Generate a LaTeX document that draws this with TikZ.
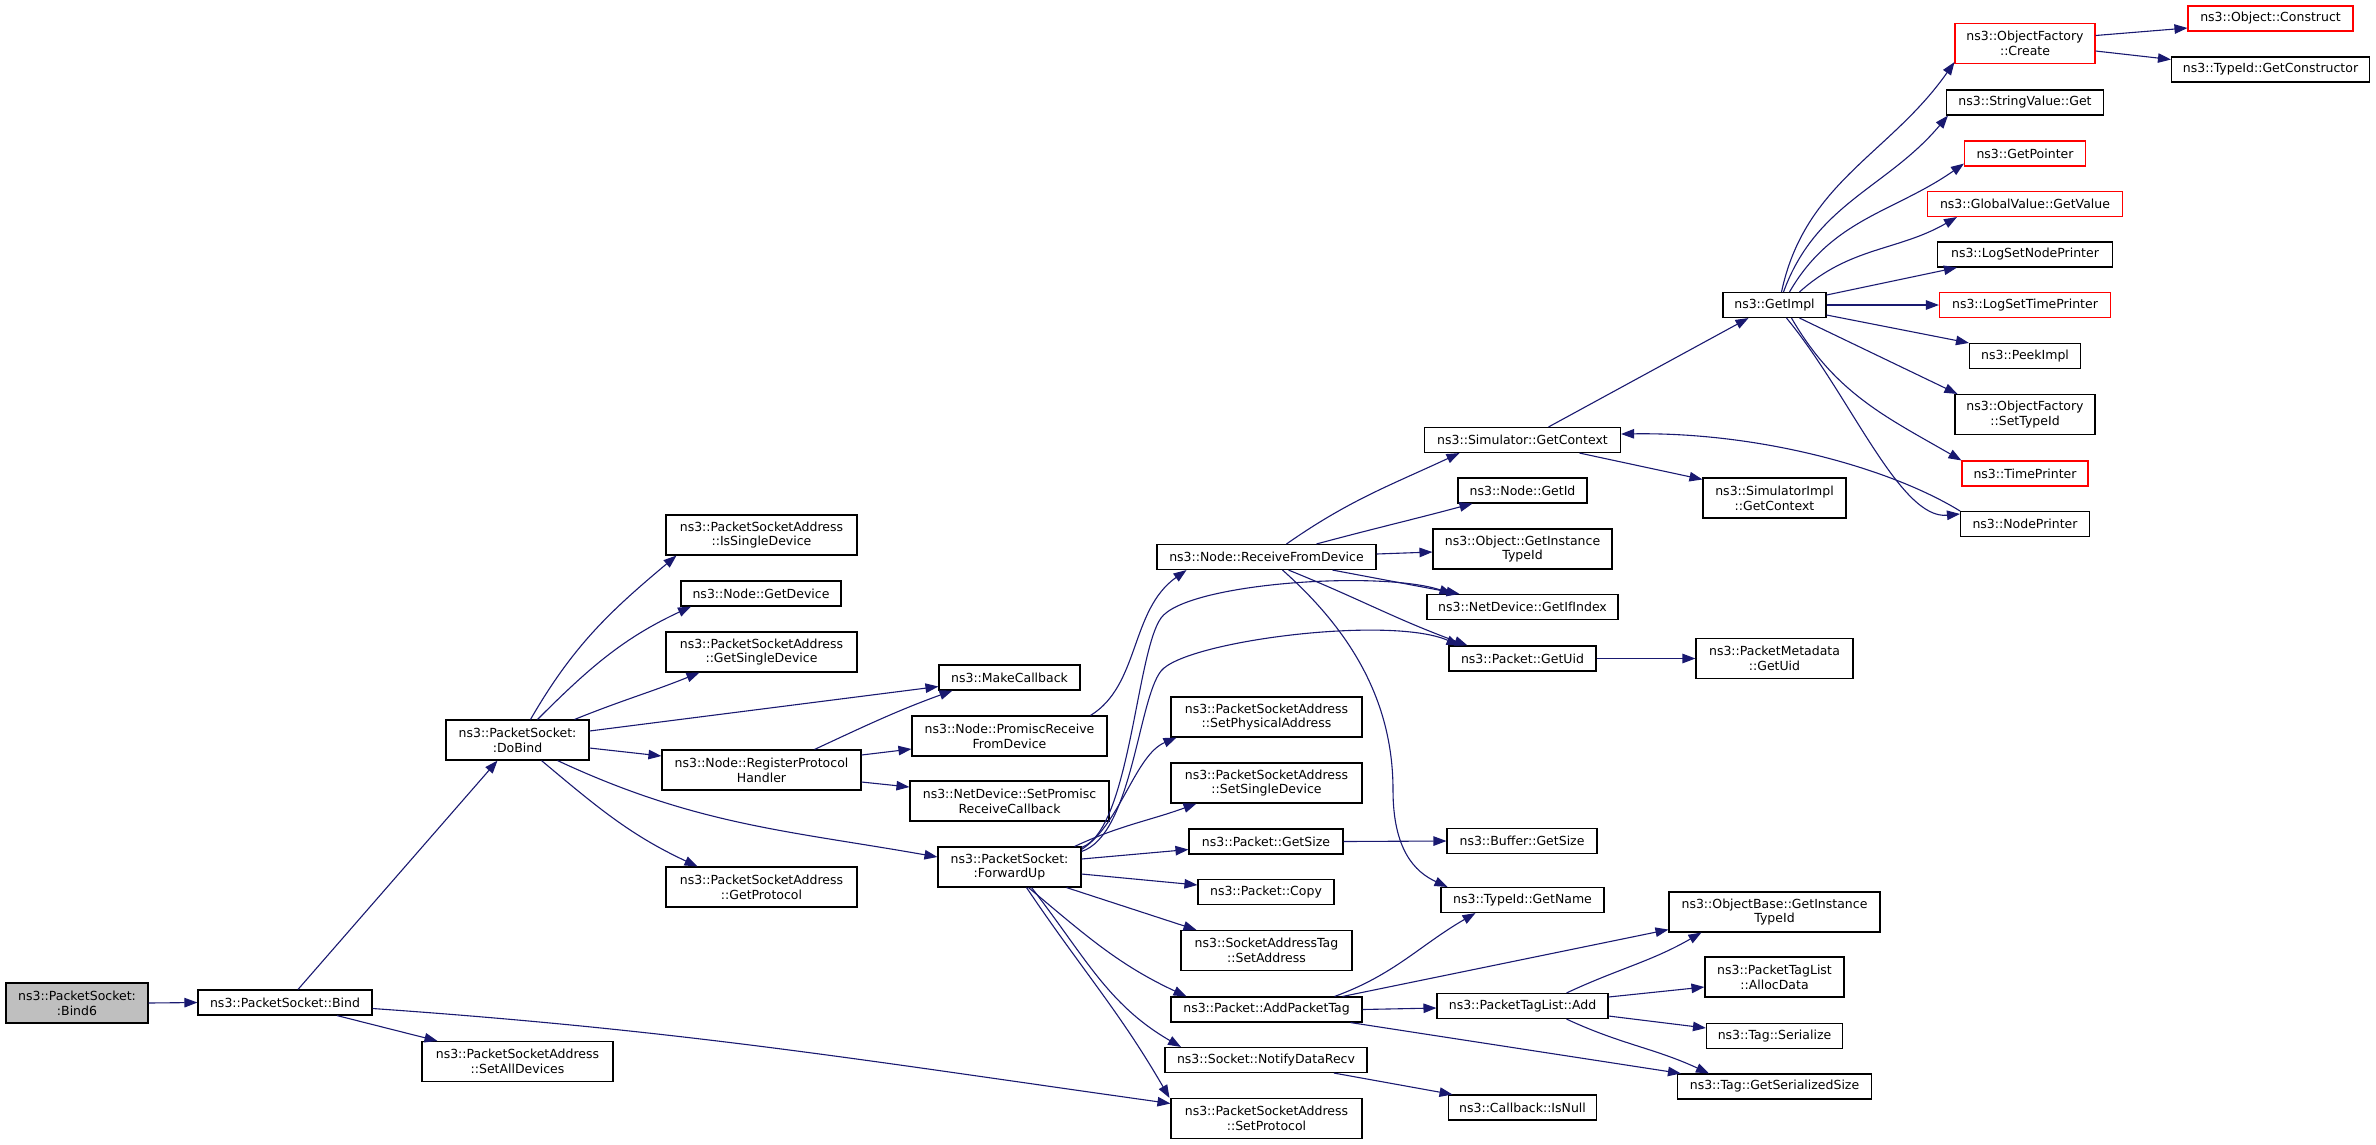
\documentclass[tikz,border=0pt]{standalone}
\usepackage{fontspec}
\setmainfont{DejaVu Sans}
\usetikzlibrary{arrows.meta}
\definecolor{edgec}{HTML}{191970}
\definecolor{greyf}{HTML}{BFBFBF}
\definecolor{redc}{HTML}{FF0000}
\begin{document}
\begin{tikzpicture}[x=1pt,y=1pt,
  nd/.style={draw=black, line width=1.1pt, inner sep=0pt, align=center, minimum height=25pt, font=\fontsize{12.5}{14.8}\selectfont},
  two/.style={minimum height=40pt},
  redbox/.style={draw=redc},
  ed/.style={draw=edgec, line width=1.1pt, -{Triangle[length=13pt,width=9.5pt]}}
]
\useasboundingbox (0,0) rectangle (2376,-1144);
% column 0-1
\node[nd,two,fill=greyf,minimum width=142pt] (bind6) at (77,-1003) {ns3::PacketSocket:\\:Bind6};
\node[nd,minimum width=174pt] (bind) at (285,-1002.5) {ns3::PacketSocket::Bind};
% column 2
\node[nd,two,minimum width=143pt] (dobind) at (517.5,-740) {ns3::PacketSocket:\\:DoBind};
\node[nd,two,minimum width=191pt] (setalldev) at (517.5,-1061.5) {ns3::PacketSocketAddress\\::SetAllDevices};
% column 3
\node[nd,two,minimum width=191pt] (issingle) at (761.5,-535) {ns3::PacketSocketAddress\\::IsSingleDevice};
\node[nd,minimum width=160pt] (getdevice) at (761,-593.5) {ns3::Node::GetDevice};
\node[nd,two,minimum width=191pt] (getsingle) at (761.5,-652) {ns3::PacketSocketAddress\\::GetSingleDevice};
\node[nd,two,minimum width=199pt] (regproto) at (761.5,-770) {ns3::Node::RegisterProtocol\\Handler};
\node[nd,two,minimum width=191pt] (getproto) at (761.5,-887) {ns3::PacketSocketAddress\\::GetProtocol};
% column 4
\node[nd,minimum width=141pt] (makecb) at (1009.5,-677.5) {ns3::MakeCallback};
\node[nd,two,minimum width=195pt] (promisc) at (1009.5,-736) {ns3::Node::PromiscReceive\\FromDevice};
\node[nd,two,minimum width=199pt] (setpromisc) at (1009.5,-801) {ns3::NetDevice::SetPromisc\\ReceiveCallback};
\node[nd,two,minimum width=143pt] (forwardup) at (1009.5,-867) {ns3::PacketSocket:\\:ForwardUp};
% column 5
\node[nd,minimum width=219pt] (recvdev) at (1266.5,-557) {ns3::Node::ReceiveFromDevice};
\node[nd,two,minimum width=191pt] (setphys) at (1266.5,-717) {ns3::PacketSocketAddress\\::SetPhysicalAddress};
\node[nd,two,minimum width=191pt] (setsingle) at (1266.5,-783) {ns3::PacketSocketAddress\\::SetSingleDevice};
\node[nd,minimum width=154pt] (getsize) at (1266,-841.5) {ns3::Packet::GetSize};
\node[nd,minimum width=136pt] (copy) at (1266,-892) {ns3::Packet::Copy};
\node[nd,two,minimum width=171pt] (setaddr) at (1266.5,-950.5) {ns3::SocketAddressTag\\::SetAddress};
\node[nd,minimum width=191pt] (addpkttag) at (1266.5,-1009.5) {ns3::Packet::AddPacketTag};
\node[nd,minimum width=202pt] (notify) at (1266,-1060) {ns3::Socket::NotifyDataRecv};
\node[nd,two,minimum width=191pt] (setproto) at (1266.5,-1118.5) {ns3::PacketSocketAddress\\::SetProtocol};
% column 6
\node[nd,minimum width=196pt] (simctx) at (1522.5,-440) {ns3::Simulator::GetContext};
\node[nd,minimum width=129pt] (nodegetid) at (1522.5,-490.5) {ns3::Node::GetId};
\node[nd,two,minimum width=179pt] (objgit) at (1522.5,-549) {ns3::Object::GetInstance\\TypeId};
\node[nd,minimum width=191pt] (getifindex) at (1522.5,-607) {ns3::NetDevice::GetIfIndex};
\node[nd,minimum width=147pt] (getuid) at (1522.5,-658.5) {ns3::Packet::GetUid};
\node[nd,minimum width=150pt] (buffersize) at (1522,-841) {ns3::Buffer::GetSize};
\node[nd,minimum width=163pt] (getname) at (1522.5,-900) {ns3::TypeId::GetName};
\node[nd,minimum width=171pt] (ptladd) at (1522.5,-1006) {ns3::PacketTagList::Add};
\node[nd,minimum width=148pt] (isnull) at (1522.5,-1107.5) {ns3::Callback::IsNull};
% column 7
\node[nd,minimum width=103pt] (getimpl) at (1774.5,-305) {ns3::GetImpl};
\node[nd,two,minimum width=143pt] (simimplctx) at (1774.5,-498) {ns3::SimulatorImpl\\::GetContext};
\node[nd,two,minimum width=157pt] (pmduid) at (1774.5,-658.5) {ns3::PacketMetadata\\::GetUid};
\node[nd,two,minimum width=211pt] (objbasegit) at (1774.5,-912) {ns3::ObjectBase::GetInstance\\TypeId};
\node[nd,two,minimum width=139pt] (allocdata) at (1774.5,-977) {ns3::PacketTagList\\::AllocData};
\node[nd,minimum width=136pt] (tagser) at (1774.5,-1036) {ns3::Tag::Serialize};
\node[nd,minimum width=194pt] (taggss) at (1774.5,-1086.5) {ns3::Tag::GetSerializedSize};
% column 8
\node[nd,two,redbox,minimum width=140pt] (ofcreate) at (2025,-43.5) {ns3::ObjectFactory\\::Create};
\node[nd,minimum width=157pt] (strget) at (2025,-102.5) {ns3::StringValue::Get};
\node[nd,redbox,minimum width=121pt] (getptr) at (2025,-153.5) {ns3::GetPointer};
\node[nd,redbox,minimum width=195pt] (gvget) at (2025,-204) {ns3::GlobalValue::GetValue};
\node[nd,minimum width=175pt] (lognode) at (2025,-254.5) {ns3::LogSetNodePrinter};
\node[nd,redbox,minimum width=171pt] (logtime) at (2025,-305) {ns3::LogSetTimePrinter};
\node[nd,minimum width=111pt] (peekimpl) at (2025,-356) {ns3::PeekImpl};
\node[nd,two,minimum width=140pt] (ofsettype) at (2025,-414.5) {ns3::ObjectFactory\\::SetTypeId};
\node[nd,redbox,minimum width=126pt] (timeprinter) at (2025,-473.5) {ns3::TimePrinter};
\node[nd,minimum width=129pt] (nodeprinter) at (2025,-524) {ns3::NodePrinter};
% column 9
\node[nd,redbox,minimum width=165pt] (objconstruct) at (2270.5,-18.5) {ns3::Object::Construct};
\node[nd,minimum width=198pt] (getctor) at (2270.5,-69.5) {ns3::TypeId::GetConstructor};

% edges
\draw[ed] (bind6.east) -- (bind.west);
\draw[ed] ([xshift=13pt]bind.north) -- ([xshift=-20pt]dobind.south);
\draw[ed] ([xshift=52pt]bind.south) -- ([xshift=-80pt]setalldev.north);
\draw[ed] ([yshift=-6pt]bind.east) to[out=-4,in=172] ([yshift=15pt]setproto.west);

\draw[ed] ([xshift=13pt]dobind.north) to[out=60,in=-140] ([xshift=-85pt]issingle.south);
\draw[ed] ([xshift=20pt]dobind.north) to[out=45,in=-155] ([xshift=-70pt]getdevice.south);
\draw[ed] ([xshift=57pt]dobind.north) to[out=22,in=-158] ([xshift=-62pt]getsingle.south);
\draw[ed] ([yshift=9pt]dobind.east) -- ([yshift=-9pt]makecb.west);
\draw[ed] ([yshift=-8pt]dobind.east) -- ([yshift=14pt]regproto.west);
\draw[ed] ([xshift=40pt]dobind.south) to[out=-25,in=170] ([yshift=10pt]forwardup.west);
\draw[ed] ([xshift=24pt]dobind.south) to[out=-40,in=155] ([xshift=-64pt]getproto.north);

\draw[ed] ([xshift=53pt]regproto.north) to[out=25,in=-160] ([xshift=-57pt]makecb.south);
\draw[ed] ([yshift=15pt]regproto.east) -- ([yshift=-13pt]promisc.west);
\draw[ed] ([yshift=-12pt]regproto.east) -- ([yshift=14pt]setpromisc.west);
\draw[ed] ([xshift=81pt]promisc.north) .. controls (1140,-685) and (1130,-610) .. ([xshift=-80pt]recvdev.south);

\draw[ed] ([yshift=-1pt]forwardup.north east) .. controls (1130,-830) and (1136,-653) .. (1161,-618) .. controls (1186,-583) and (1380,-570) .. ([xshift=-70pt]getifindex.north);
\draw[ed] ([yshift=-5pt]forwardup.north east) .. controls (1132,-835) and (1138,-700) .. (1161,-671) .. controls (1185,-641) and (1390,-615) .. ([xshift=-63pt]getuid.north);
\draw[ed] ([yshift=-3pt]forwardup.north east) .. controls (1120,-825) and (1135,-755) .. ([xshift=-90pt]setphys.south);
\draw[ed] ([xshift=-7pt]forwardup.north east) to[out=25,in=-160] ([xshift=-70pt]setsingle.south);
\draw[ed] ([yshift=8pt]forwardup.east) -- ([yshift=-8pt]getsize.west);
\draw[ed] ([yshift=-7pt]forwardup.east) -- ([yshift=7pt]copy.west);
\draw[ed] ([xshift=57pt]forwardup.south) -- ([xshift=-70pt]setaddr.north);
\draw[ed] ([xshift=19pt]forwardup.south) to[out=-40,in=155] ([xshift=-80pt]addpkttag.north);
\draw[ed] ([xshift=22pt]forwardup.south) to[out=-52,in=150] ([xshift=-85pt]notify.north);
\draw[ed] ([xshift=17pt]forwardup.south) to[out=-56,in=120] ([xshift=-97pt]setproto.north);

\draw[ed] ([xshift=20pt]recvdev.north) to[out=35,in=-155] ([xshift=-63pt]simctx.south);
\draw[ed] ([xshift=50pt]recvdev.north) to[out=15,in=-165] ([xshift=-50pt]nodegetid.south);
\draw[ed] ([yshift=3pt]recvdev.east) -- ([yshift=-3pt]objgit.west);
\draw[ed] ([xshift=66pt]recvdev.south) -- ([xshift=-63pt]getifindex.north);
\draw[ed] ([xshift=22pt]recvdev.south) to[out=-22,in=160] ([xshift=-55pt]getuid.north);
\draw[ed] ([xshift=16pt]recvdev.south) .. controls (1350,-630) and (1393,-700) .. (1393,-790) .. controls (1393,-850) and (1415,-872) .. ([xshift=-75pt]getname.north);

\draw[ed] (getuid.east) -- (pmduid.west);
\draw[ed] (getsize.east) -- (buffersize.west);

\draw[ed] ([xshift=26pt]simctx.north) -- ([xshift=-26pt]getimpl.south);
\draw[ed] ([xshift=57pt]simctx.south) -- ([yshift=-2pt]simimplctx.north west);
\draw[ed] (nodeprinter.north west) .. controls (1890,-468) and (1760,-432) .. ([yshift=6pt]simctx.east);

\draw[ed] ([xshift=7pt]getimpl.north) to[out=78,in=-125] ([yshift=2pt]ofcreate.south west);
\draw[ed] ([xshift=9pt]getimpl.north) to[out=70,in=-130] ([xshift=2pt]strget.south west);
\draw[ed] ([xshift=15pt]getimpl.north) to[out=60,in=-145] ([yshift=3pt]getptr.south west);
\draw[ed] ([xshift=25pt]getimpl.north) to[out=42,in=-150] ([xshift=30pt]gvget.south west);
\draw[ed] ([yshift=10pt]getimpl.east) -- ([xshift=20pt]lognode.south west);
\draw[ed] (getimpl.east) -- (logtime.west);
\draw[ed] ([yshift=-10pt]getimpl.east) -- (peekimpl.north west);
\draw[ed] ([xshift=25pt]getimpl.south) -- ([xshift=3pt]ofsettype.north west);
\draw[ed] ([xshift=17pt]getimpl.south) to[out=-60,in=150] (timeprinter.north west);
\draw[ed] ([xshift=12pt]getimpl.south) .. controls (1850,-395) and (1900,-520) .. ([yshift=-3pt]nodeprinter.north west);

\draw[ed] ([yshift=8pt]ofcreate.east) -- ([yshift=-9.5pt]objconstruct.west);
\draw[ed] ([yshift=-7.5pt]ofcreate.east) -- ([yshift=10pt]getctor.west);

\draw[ed] ([xshift=68pt]addpkttag.north) to[out=20,in=-150] ([xshift=-47pt]getname.south);
\draw[ed] ([xshift=76pt]addpkttag.north) -- ([yshift=3pt]objbasegit.south west);
\draw[ed] (addpkttag.east) -- ([yshift=-2pt]ptladd.west);
\draw[ed] ([xshift=84pt]addpkttag.south) -- ([xshift=4pt]taggss.north west);

\draw[ed] ([xshift=44pt]ptladd.north) to[out=25,in=-150] ([xshift=33pt]objbasegit.south west);
\draw[ed] ([yshift=9pt]ptladd.east) -- ([yshift=-10pt]allocdata.west);
\draw[ed] ([yshift=-10pt]ptladd.east) -- ([yshift=8pt]tagser.west);
\draw[ed] ([xshift=44pt]ptladd.south) to[out=-25,in=155] ([xshift=32pt]taggss.north west);

\draw[ed] ([xshift=68pt]notify.south) -- ([xshift=-70pt]isnull.north);
\end{tikzpicture}
\end{document}
